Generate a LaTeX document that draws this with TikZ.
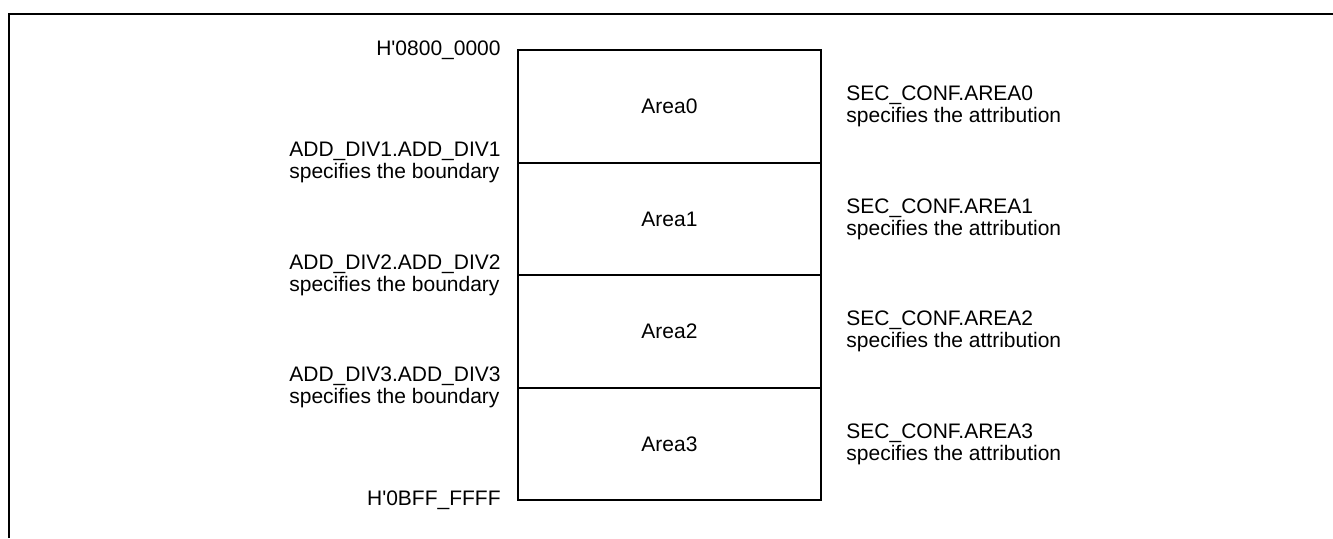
\documentclass[tikz,border=0pt]{standalone}
\usepackage{fontspec}
\setmainfont{Liberation Sans}
\usetikzlibrary{positioning}

\tikzset{
	area/.style={draw,line width=0.8pt,minimum width=151.5pt,minimum height=56.25pt,
		inner sep=0pt,outer sep=0pt,font=\fontsize{10.5}{11}\selectfont},
	etiq/.style={inner sep=0pt,align=left,font=\fontsize{10.5}{11}\selectfont},
}

\begin{document}
\begin{tikzpicture}[x=0.5pt,y=-0.5pt]
		
		% Ventana
		\useasboundingbox (0,0) rectangle (1333,538);
		
		% Marco
		\coordinate (m0) at (9,538);
		\coordinate (m1) at (9,14);
		\coordinate (m2) at (1333,14);
		\draw[line width=1pt] (m0) -- (m1) -- (m2);
		
		% Areas
		\node[area] (a0) at (669.5,106.5) {Area0};
		\foreach \i [count=\j from 0] in {1,2,3}{
			\node[area,below=0pt of a\j] (a\i) {Area\i};
		}
		
		% Direcciones
		\node[etiq,left=8.5pt of a0.north west] (h0) {H\textquotesingle 0800\_0000};
		\node[etiq,left=8.5pt of a3.south west] (h1) {H\textquotesingle 0BFF\_FFFF};
		\foreach \i in {1,2,3}{
			\node[etiq,left=8.5pt of a\i.north west] (d\i) {ADD\_DIV\i.ADD\_DIV\i\\specifies the boundary};
		}
		
		% Atributos
		\foreach \i in {0,1,2,3}{
			\node[etiq,right=12.5pt of a\i.east] (s\i) {SEC\_CONF.AREA\i\\specifies the attribution};
		}
		
	\end{tikzpicture}
\end{document}
